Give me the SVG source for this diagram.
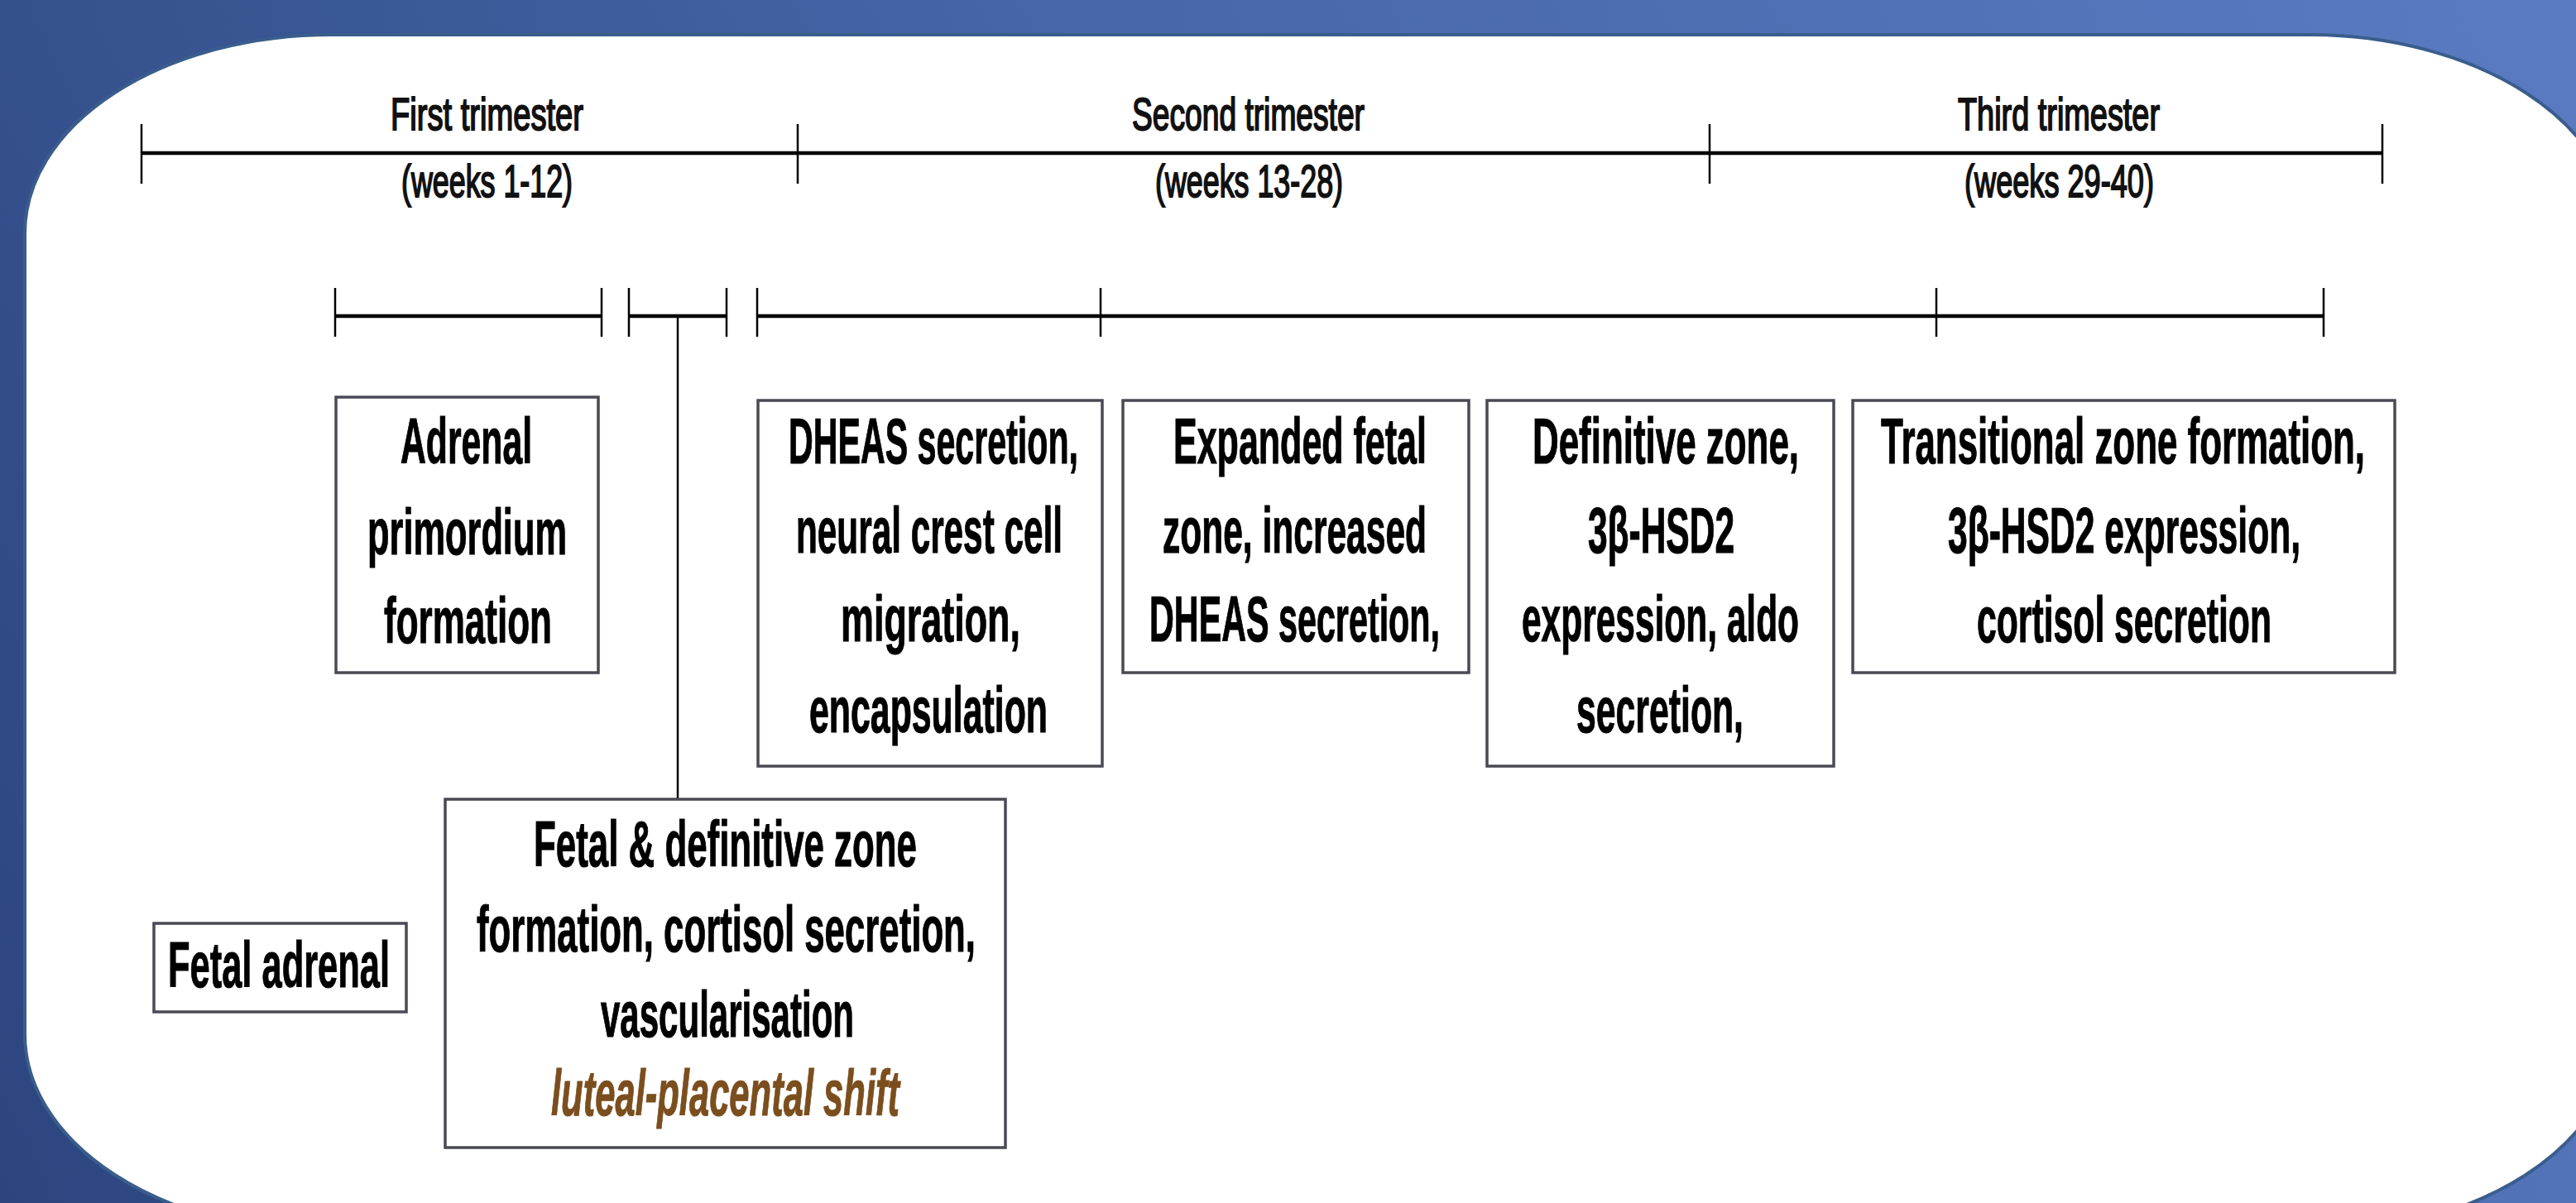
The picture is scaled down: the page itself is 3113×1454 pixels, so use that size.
<svg xmlns="http://www.w3.org/2000/svg" width="3113" height="1454" viewBox="0 0 3113 1454">
<defs>
<linearGradient id="bg" x1="0" y1="1454" x2="3113" y2="0" gradientUnits="userSpaceOnUse">
<stop offset="0" stop-color="#2c457f"/>
<stop offset="0.5" stop-color="#4565a6"/>
<stop offset="1" stop-color="#5a7bc2"/>
</linearGradient>
<style>
.lbl{font-family:"Liberation Sans",Arial,sans-serif;font-size:38px;fill:#111;stroke:#111;stroke-width:1.4}
.bt{font-family:"Liberation Sans",Arial,sans-serif;font-size:44px;font-weight:bold;fill:#000;stroke:#000;stroke-width:0.6}
.it{font-style:italic;fill:#7b4e1e;stroke:#7b4e1e}
.box{fill:#fff;stroke:#4a4a55;stroke-width:3.5}
.axis{stroke:#000;stroke-width:4.5;fill:none}
.tick{stroke:#000;stroke-width:2.5;fill:none}
.conn{stroke:#000;stroke-width:2.5;fill:none}
</style>
</defs>
<rect x="0" y="0" width="3113" height="1454" fill="url(#bg)"/>
<rect x="30" y="42" width="3131" height="1448" rx="370" ry="240" fill="#fff" stroke="#3a5d8c" stroke-width="4"/>

<g id="timeline-top">
<line class="axis" x1="171" y1="185" x2="2879" y2="185"/>
<line class="tick" x1="171" y1="150" x2="171" y2="222"/>
<line class="tick" x1="964" y1="150" x2="964" y2="222"/>
<line class="tick" x1="2066" y1="150" x2="2066" y2="222"/>
<line class="tick" x1="2879" y1="150" x2="2879" y2="222"/>
<text class="lbl" transform="translate(472,157) scale(1,1.47)" textLength="233" lengthAdjust="spacingAndGlyphs">First trimester</text>
<text class="lbl" transform="translate(485,238) scale(1,1.47)" textLength="207" lengthAdjust="spacingAndGlyphs">(weeks 1-12)</text>
<text class="lbl" transform="translate(1368,157) scale(1,1.47)" textLength="281" lengthAdjust="spacingAndGlyphs">Second trimester</text>
<text class="lbl" transform="translate(1396,238) scale(1,1.47)" textLength="227" lengthAdjust="spacingAndGlyphs">(weeks 13-28)</text>
<text class="lbl" transform="translate(2366,157) scale(1,1.47)" textLength="244" lengthAdjust="spacingAndGlyphs">Third trimester</text>
<text class="lbl" transform="translate(2374,238) scale(1,1.47)" textLength="229" lengthAdjust="spacingAndGlyphs">(weeks 29-40)</text>
</g>

<g id="connectors">
<line class="axis" x1="405" y1="382" x2="727" y2="382"/>
<line class="axis" x1="760" y1="382" x2="878" y2="382"/>
<line class="axis" x1="915" y1="382" x2="2808" y2="382"/>
<line class="tick" x1="405" y1="348" x2="405" y2="407"/>
<line class="tick" x1="727" y1="348" x2="727" y2="407"/>
<line class="tick" x1="760" y1="348" x2="760" y2="407"/>
<line class="tick" x1="878" y1="348" x2="878" y2="407"/>
<line class="tick" x1="915" y1="348" x2="915" y2="407"/>
<line class="tick" x1="1330" y1="348" x2="1330" y2="407"/>
<line class="tick" x1="2340" y1="348" x2="2340" y2="407"/>
<line class="tick" x1="2808" y1="348" x2="2808" y2="407"/>
<line class="conn" x1="819" y1="384" x2="819" y2="966"/>
</g>

<g id="node-adrenal-primordium">
<rect class="box" x="406" y="480" width="317" height="333"/>
<text class="bt" transform="translate(484,560) scale(1,1.75)" textLength="159" lengthAdjust="spacingAndGlyphs">Adrenal</text>
<text class="bt" transform="translate(444,670) scale(1,1.75)" textLength="241" lengthAdjust="spacingAndGlyphs">primordium</text>
<text class="bt" transform="translate(464,777) scale(1,1.75)" textLength="203" lengthAdjust="spacingAndGlyphs">formation</text>
</g>

<g id="node-dheas">
<rect class="box" x="916" y="484" width="416" height="442"/>
<text class="bt" transform="translate(953,560) scale(1,1.75)" textLength="350" lengthAdjust="spacingAndGlyphs">DHEAS secretion,</text>
<text class="bt" transform="translate(962,668) scale(1,1.75)" textLength="322" lengthAdjust="spacingAndGlyphs">neural crest cell</text>
<text class="bt" transform="translate(1016,775) scale(1,1.75)" textLength="217" lengthAdjust="spacingAndGlyphs">migration,</text>
<text class="bt" transform="translate(978,885) scale(1,1.75)" textLength="288" lengthAdjust="spacingAndGlyphs">encapsulation</text>
</g>

<g id="node-expanded">
<rect class="box" x="1357" y="484" width="418" height="329"/>
<text class="bt" transform="translate(1418,560) scale(1,1.75)" textLength="306" lengthAdjust="spacingAndGlyphs">Expanded fetal</text>
<text class="bt" transform="translate(1405,668) scale(1,1.75)" textLength="319" lengthAdjust="spacingAndGlyphs">zone, increased</text>
<text class="bt" transform="translate(1389,775) scale(1,1.75)" textLength="351" lengthAdjust="spacingAndGlyphs">DHEAS secretion,</text>
</g>

<g id="node-definitive">
<rect class="box" x="1797" y="484" width="419" height="442"/>
<text class="bt" transform="translate(1852,560) scale(1,1.75)" textLength="322" lengthAdjust="spacingAndGlyphs">Definitive zone,</text>
<text class="bt" transform="translate(1919,668) scale(1,1.75)" textLength="177" lengthAdjust="spacingAndGlyphs">3β-HSD2</text>
<text class="bt" transform="translate(1839,775) scale(1,1.75)" textLength="335" lengthAdjust="spacingAndGlyphs">expression, aldo</text>
<text class="bt" transform="translate(1905,885) scale(1,1.75)" textLength="202" lengthAdjust="spacingAndGlyphs">secretion,</text>
</g>

<g id="node-transitional">
<rect class="box" x="2239" y="484" width="655" height="329"/>
<text class="bt" transform="translate(2273,560) scale(1,1.75)" textLength="585" lengthAdjust="spacingAndGlyphs">Transitional zone formation,</text>
<text class="bt" transform="translate(2354,668) scale(1,1.75)" textLength="426" lengthAdjust="spacingAndGlyphs">3β-HSD2 expression,</text>
<text class="bt" transform="translate(2389,776) scale(1,1.75)" textLength="356" lengthAdjust="spacingAndGlyphs">cortisol secretion</text>
</g>

<g id="node-fetal-adrenal">
<rect class="box" x="186" y="1116" width="305" height="107"/>
<text class="bt" transform="translate(203,1193) scale(1,1.75)" textLength="268" lengthAdjust="spacingAndGlyphs">Fetal adrenal</text>
</g>

<g id="node-fetal-definitive">
<rect class="box" x="538" y="966" width="677" height="421"/>
<text class="bt" transform="translate(645,1047) scale(1,1.75)" textLength="463" lengthAdjust="spacingAndGlyphs">Fetal &amp; definitive zone</text>
<text class="bt" transform="translate(576,1150) scale(1,1.75)" textLength="603" lengthAdjust="spacingAndGlyphs">formation, cortisol secretion,</text>
<text class="bt" transform="translate(726,1253) scale(1,1.75)" textLength="306" lengthAdjust="spacingAndGlyphs">vascularisation</text>
<text class="bt it" transform="translate(666,1348) scale(1,1.75)" textLength="421" lengthAdjust="spacingAndGlyphs">luteal-placental shift</text>
</g>
</svg>
